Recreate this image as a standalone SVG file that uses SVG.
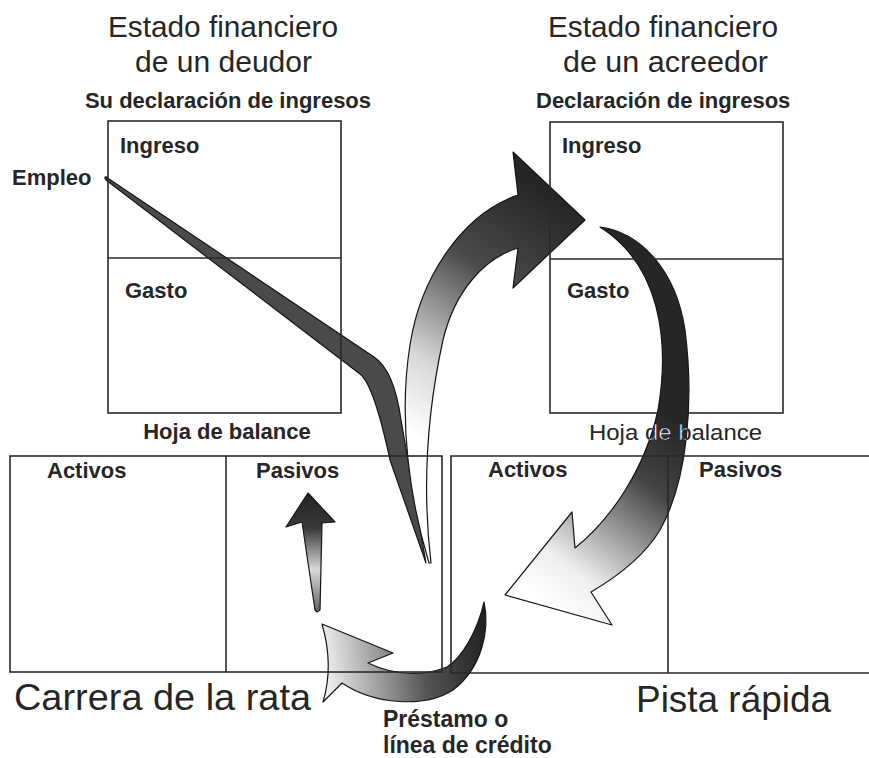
<svg xmlns="http://www.w3.org/2000/svg" width="869" height="758" viewBox="0 0 869 758">
<defs>
<style>
.t{font-family:"Liberation Sans",Arial,sans-serif;fill:#262626}
.title{font-size:29px}
.big{font-size:36px}
.lb{font-size:22px;font-weight:bold}
.lr{font-size:22px}
.box{fill:none;stroke:#2a2a2a;stroke-width:1.6}
.arr{stroke:#151515;stroke-width:1.2;stroke-linejoin:round}
</style>
<linearGradient id="gBig" gradientUnits="userSpaceOnUse" x1="555" y1="200" x2="405" y2="430">
<stop offset="0" stop-color="#262626"/><stop offset="0.35" stop-color="#4a4a4a"/><stop offset="0.75" stop-color="#d8d8d8"/><stop offset="1" stop-color="#ffffff"/>
</linearGradient>
<linearGradient id="gCred" gradientUnits="userSpaceOnUse" x1="675" y1="420" x2="540" y2="600">
<stop offset="0" stop-color="#262626"/><stop offset="0.3" stop-color="#444"/><stop offset="0.8" stop-color="#eeeeee"/><stop offset="1" stop-color="#ffffff"/>
</linearGradient>
<linearGradient id="gLoan" gradientUnits="userSpaceOnUse" x1="485" y1="640" x2="325" y2="660">
<stop offset="0" stop-color="#222"/><stop offset="0.4" stop-color="#555"/><stop offset="1" stop-color="#eeeeee"/>
</linearGradient>
<linearGradient id="gUp" gradientUnits="userSpaceOnUse" x1="0" y1="493" x2="0" y2="611">
<stop offset="0" stop-color="#222"/><stop offset="0.3" stop-color="#3a3a3a"/><stop offset="0.65" stop-color="#d8d8d8"/><stop offset="1" stop-color="#666"/>
</linearGradient>
<path id="credPath" d="M600,227 C640,232 676,270 685,330 C694,400 688,480 660,530 C645,555 620,575 591,592 L612,625 L505,595 L572,512 L575,548 C610,520 645,470 658,410 C670,340 660,265 600,227 Z"/>
<clipPath id="credClip"><use href="#credPath"/></clipPath>
</defs>
<rect width="869" height="758" fill="#ffffff"/>

<g id="connectors">
<path id="empleo-arrow" class="arr" fill="#4a4a4a" d="M106,177 L374,357 Q394,370 401,420 L426,563 L390,460 Q374,385 360,374 L106,180 Z"/>
<circle cx="106" cy="178" r="1.8" fill="#222"/>
<path id="to-creditor-income" class="arr" fill="url(#gBig)" d="M429,563 C410,500 398,420 410,345 C420,280 460,215 518,195 L513,152 L585,220 L513,288 L518,248 C485,258 455,290 443,340 C432,390 420,470 431,563 Z"/>
<use id="to-creditor-assets" href="#credPath" class="arr" fill="url(#gCred)"/>
<path id="loan-arrow" class="arr" fill="url(#gLoan)" d="M484,602 C490,630 482,668 453,690 C425,708 375,705 342,683 L323,702 Q334,665 322,624 L393,653 L368,663 C395,676 425,676 447,667 C462,658 478,630 484,602 Z"/>
<path id="to-liabilities" class="arr" fill="url(#gUp)" d="M308,493 L335,522 L322,523 L320,610 L317,612 L315,610 L302,522 L286,527 Z"/>
</g>

<g id="debtor-title">
<text class="t title" x="108" y="37" textLength="230" lengthAdjust="spacingAndGlyphs">Estado financiero</text>
<text class="t title" x="135" y="72" textLength="177" lengthAdjust="spacingAndGlyphs">de un deudor</text>
</g>
<g id="creditor-title">
<text class="t title" x="548" y="37" textLength="230" lengthAdjust="spacingAndGlyphs">Estado financiero</text>
<text class="t title" x="563" y="72" textLength="205" lengthAdjust="spacingAndGlyphs">de un acreedor</text>
</g>

<g id="debtor-income">
<text class="t lb" x="228" y="108" text-anchor="middle">Su declaración de ingresos</text>
<rect class="box" x="108" y="121" width="233" height="292"/>
<line class="box" x1="108" y1="258" x2="341" y2="258"/>
<text class="t lb" x="120" y="153">Ingreso</text>
<text class="t lb" x="125" y="298">Gasto</text>
</g>
<g id="empleo">
<text class="t lb" x="12" y="185">Empleo</text>
</g>

<g id="creditor-income">
<text class="t lb" x="536" y="108">Declaración de ingresos</text>
<rect class="box" x="550" y="122" width="233" height="291"/>
<line class="box" x1="550" y1="259" x2="783" y2="259"/>
<text class="t lb" x="562" y="153">Ingreso</text>
<text class="t lb" x="567" y="298">Gasto</text>
</g>

<g id="debtor-balance">
<text class="t lb" x="227" y="439" text-anchor="middle">Hoja de balance</text>
<rect class="box" x="10" y="456" width="432" height="216"/>
<line class="box" x1="226" y1="456" x2="226" y2="672"/>
<text class="t lb" x="47" y="478">Activos</text>
<text class="t lb" x="256" y="478">Pasivos</text>
<text class="t big" x="14" y="710" textLength="297" lengthAdjust="spacingAndGlyphs">Carrera de la rata</text>
</g>

<g id="creditor-balance">
<text class="t lr" x="589" y="440" textLength="173" lengthAdjust="spacingAndGlyphs">Hoja de balance</text>
<g clip-path="url(#credClip)">
<text x="589" y="440" textLength="173" lengthAdjust="spacingAndGlyphs" font-family="Liberation Sans, Arial, sans-serif" font-size="22" fill="#ffffff" stroke="#222" stroke-width="0.7">Hoja de balance</text>
</g>
<path class="box" d="M880,456 L451,456 L451,673 L880,673"/>
<line class="box" x1="668" y1="456" x2="668" y2="673"/>
<text class="t lb" x="488" y="477">Activos</text>
<text class="t lb" x="699" y="477">Pasivos</text>
<text class="t big" x="636" y="712" textLength="195" lengthAdjust="spacingAndGlyphs">Pista rápida</text>
</g>

<g id="loan-label">
<text class="t lb" x="383" y="727" style="font-size:23px">Préstamo o</text>
<text class="t lb" x="383" y="753" style="font-size:23px">línea de crédito</text>
</g>
</svg>
